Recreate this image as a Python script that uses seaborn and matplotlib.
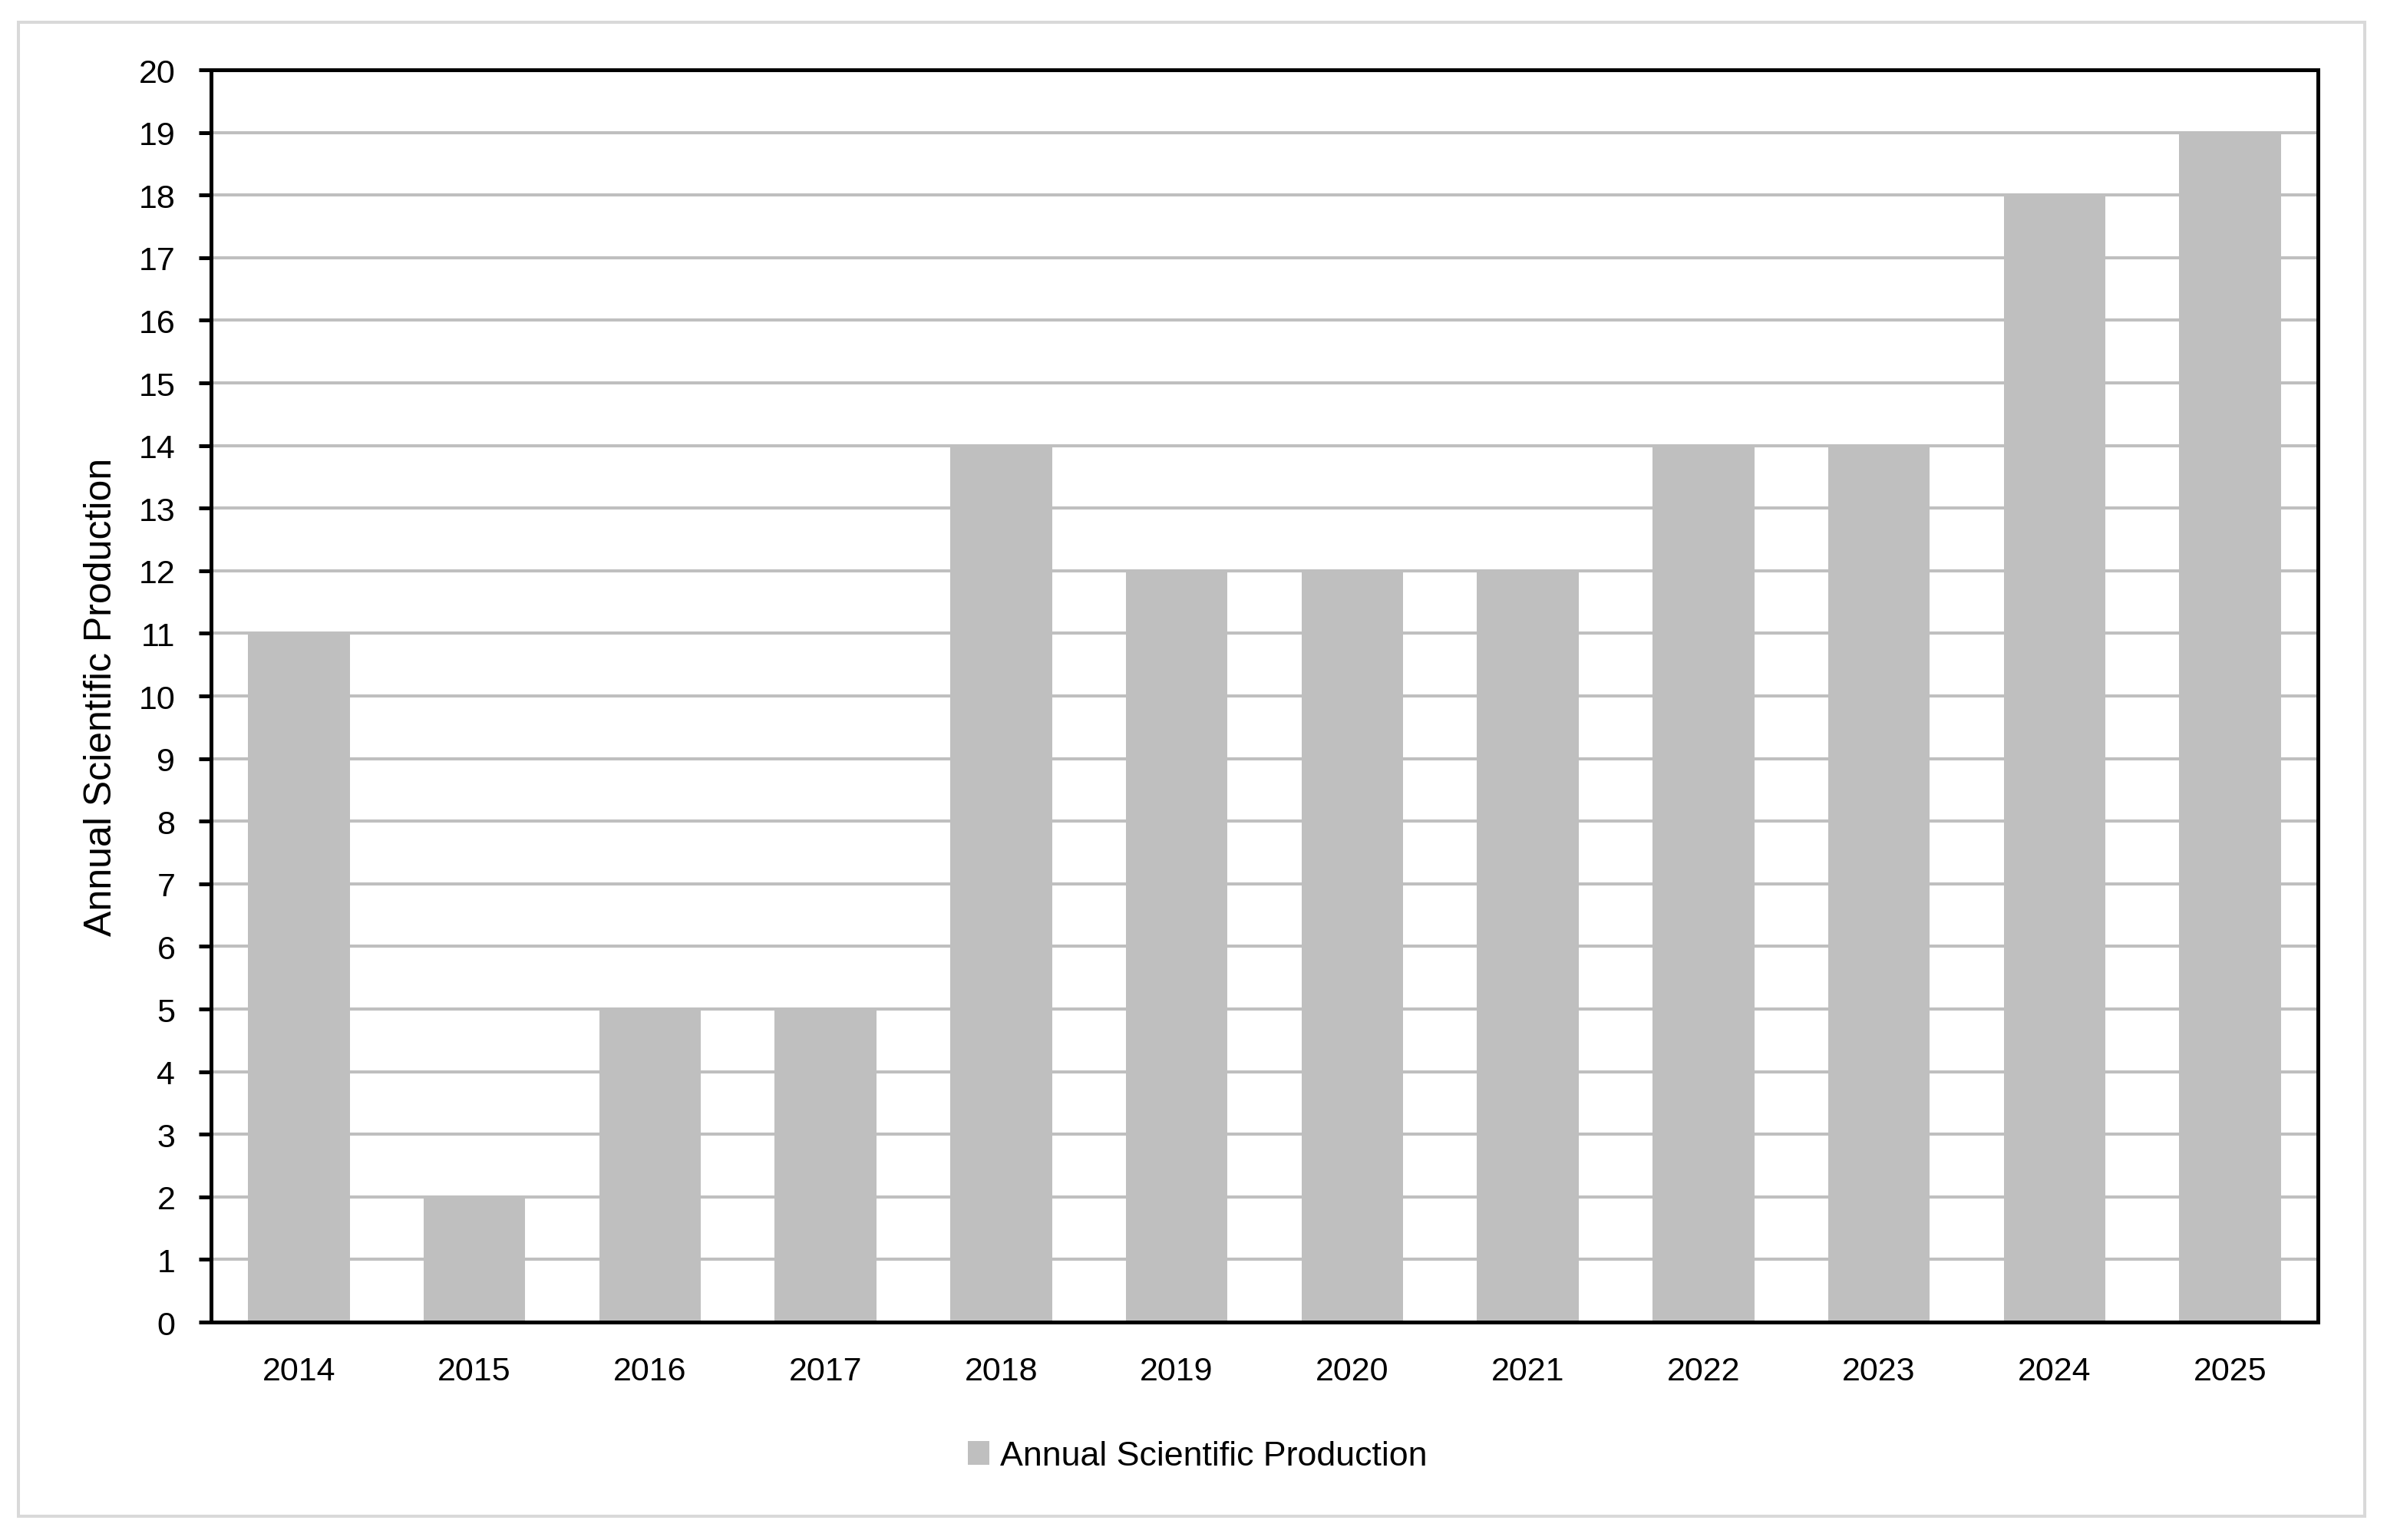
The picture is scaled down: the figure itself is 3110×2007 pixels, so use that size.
import matplotlib
matplotlib.use('Agg')
import matplotlib.pyplot as plt
import matplotlib.patches as mpatches
import seaborn as sns

# data
years = ['2014', '2015', '2016', '2017', '2018', '2019',
         '2020', '2021', '2022', '2023', '2024', '2025']
production = [11, 2, 5, 5, 14, 12, 12, 12, 14, 14, 18, 19]
yticks = list(range(0, 21))
series_name = 'Annual Scientific Production'

bar_color = '#bfbfbf'
grid_color = '#bfbfbf'
frame_color = '#d9d9d9'

sns.set_theme(style='white')
plt.rcParams['font.family'] = ['Liberation Sans', 'DejaVu Sans']
plt.rcParams['text.color'] = 'black'

fig = plt.figure(figsize=(15.55, 10.04), dpi=200)
ax = fig.add_axes([0.08842, 0.14143, 0.88264, 0.81275])

sns.barplot(x=years, y=production, color=bar_color, saturation=1,
            width=0.58, linewidth=0, edgecolor='none', ax=ax, zorder=2)

ax.set_ylim(0, 20)
ax.set_yticks(yticks)
ax.set_xlim(-0.5, len(years) - 0.5)

# gridlines behind bars
ax.set_axisbelow(True)
ax.yaxis.grid(True, color=grid_color, linewidth=1.45, zorder=0)
ax.xaxis.grid(False)

for side in ['left', 'right', 'top', 'bottom']:
    ax.spines[side].set_visible(True)
    ax.spines[side].set_color('black')
    ax.spines[side].set_linewidth(1.8)

ax.tick_params(axis='y', which='major', left=True, length=5.8, width=1.8,
               color='black', pad=11, labelsize=15.5, labelcolor='black')
ax.tick_params(axis='x', which='major', bottom=False, length=0,
               pad=16, labelsize=15.5, labelcolor='black')

ax.set_xlabel('')
ax.set_ylabel(series_name, fontsize=18, color='black', labelpad=9)

# legend below the plot
handle = mpatches.Patch(facecolor=bar_color, edgecolor='none', label=series_name)
fig.legend(handles=[handle], loc='center', bbox_to_anchor=(0.5016, 0.0545),
           frameon=False, handlelength=0.63, handleheight=0.67,
           handletextpad=0.31, labelcolor='black', prop={'size': 16.1})

# light grey outer frame around the chart area
frame = mpatches.Rectangle((24 / 3110, 1 - 1977 / 2008),
                           (3081 - 24) / 3110, (1977 - 30) / 2008,
                           transform=fig.transFigure, fill=False,
                           edgecolor=frame_color, linewidth=1.45, zorder=-1)
fig.patches.append(frame)

fig.savefig('out.png', dpi=200, facecolor='white')
